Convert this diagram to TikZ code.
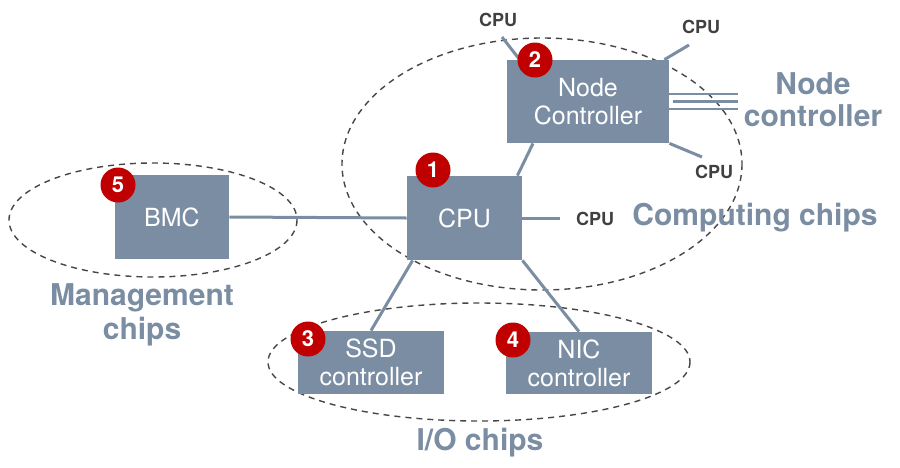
\documentclass[tikz,border=0pt]{standalone}
\usepackage{fontspec}
\setmainfont{TeX Gyre Heros}
\definecolor{chipcol}{RGB}{122,141,163}
\definecolor{badgecol}{RGB}{192,0,0}
\definecolor{ringcol}{RGB}{70,70,70}
\definecolor{cpucol}{RGB}{64,64,64}
\newcommand\boxfont{\fontsize{12.5}{14}\selectfont}
\newcommand\groupfont{\fontsize{15}{16}\selectfont\bfseries}

\begin{document}
\begin{tikzpicture}[
x=0.5pt,y=-0.5pt,
chipbox/.style={fill=chipcol,text=white,inner sep=0pt,align=center,font=\boxfont},
badge/.style={circle,fill=badgecol,text=white,inner sep=0pt,minimum size=17.5pt,font=\fontsize{11}{11}\selectfont\bfseries},
cpulabel/.style={text=cpucol,font=\fontsize{9}{9}\selectfont\bfseries},
grouplabel/.style={text=chipcol,align=center,font=\groupfont},
ring/.style={draw=ringcol,dash pattern=on 3pt off 2.5pt,line width=0.7pt},
wire/.style={draw=chipcol,line width=1.5pt}
]
\useasboundingbox (0,0) rectangle (900,467);

% groups
\draw[ring] (542,164) ellipse [x radius=200,y radius=126];
\draw[ring] (153,220) ellipse [x radius=144,y radius=57];
\draw[ring] (479,362) ellipse [x radius=211,y radius=59];

% chips
\node[chipbox,minimum width=81pt,minimum height=41.5pt] (nc) at (588,101.5) {Node\\Controller};
\node[chipbox,minimum width=57.5pt,minimum height=42pt] (cpu) at (464.5,218) {CPU};
\node[chipbox,minimum width=57pt,minimum height=42pt] (bmc) at (172,217) {BMC};
\node[chipbox,minimum width=73pt,minimum height=31.5pt] (ssd) at (371,362.5) {SSD\\controller};
\node[chipbox,minimum width=73pt,minimum height=31pt] (nic) at (579,363) {NIC\\controller};

% other cpus
\node[cpulabel] (cpua) at (498,20) {CPU};
\node[cpulabel] (cpub) at (701,27) {CPU};
\node[cpulabel] (cpuc) at (714,172) {CPU};
\node[cpulabel] (cpud) at (595,219) {CPU};
\coordinate (enda) at (502,37);
\coordinate (endb) at (689,45);
\coordinate (endc) at (702,157);
\coordinate (endd) at (560,218);

% links
\draw[wire] (bmc.east) -- (cpu.west);
\draw[wire] (cpu.east) -- (endd);
\draw[wire] ([xshift=-2.5pt]cpu.north east) -- ([xshift=-27.5pt]nc.south);
\draw[wire] ([xshift=3pt]cpu.south west) -- (ssd.north);
\draw[wire] (cpu.south east) -- (nic.north);
\draw[wire] (enda) -- ([xshift=6.5pt]nc.north west);
\draw[wire] ([xshift=-2.5pt]nc.north east) -- (endb);
\draw[wire] (nc.south east) -- (endc);
\foreach \s/\x in {3.75/0,0/2,-3.75/0}
{
\draw[draw=chipcol,line width=1.2pt] ([yshift=\s pt,xshift=\x pt]nc.east) -- ++(69-2*\x,0);
}

% badges
\node[badge] (b1) at (433,170) {1};
\node[badge] (b2) at (535,60) {2};
\node[badge] (b3) at (308,339) {3};
\node[badge] (b4) at (513,340) {4};
\node[badge] (b5) at (118,185) {5};

% group names
\node[grouplabel] (ncname) at (813,100) {Node\\controller};
\node[grouplabel] (compname) at (755,218) {Computing chips};
\node[grouplabel,font=\fontsize{15}{17}\selectfont\bfseries] (mgmtname) at (142,315) {Management\\chips};
\node[grouplabel] (ioname) at (480,443) {I/O chips};
\end{tikzpicture}
\end{document}
